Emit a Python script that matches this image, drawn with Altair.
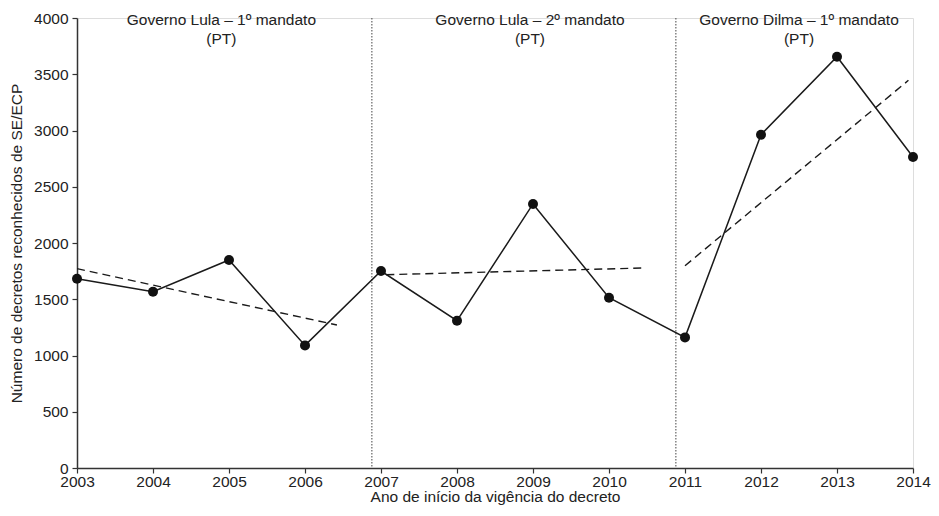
import altair as alt
import pandas as pd

years = [2003, 2004, 2005, 2006, 2007, 2008, 2009, 2010, 2011, 2012, 2013, 2014]
decrees = [1683, 1567, 1849, 1090, 1751, 1309, 2347, 1514, 1161, 2963, 3656, 2764]

trend_group = ["a", "a", "b", "b", "c", "c"]
trend_x = [2003.0, 2006.42, 2007.07, 2010.46, 2011.0, 2013.94]
trend_y = [1772, 1271, 1718, 1778, 1798, 3446]

divider_x = [2006.88, 2010.88]

term_labels = [
    ["Governo Lula – 1º mandato", "(PT)"],
    ["Governo Lula – 2º mandato", "(PT)"],
    ["Governo Dilma – 1º mandato", "(PT)"],
]
term_label_x = [2004.9, 2008.96, 2012.5]
term_label_y = [3980, 3980, 3980]

df = pd.DataFrame({"ano": years, "n": decrees})
tdf = pd.DataFrame({"g": trend_group, "ano": trend_x, "n": trend_y})
ddf = pd.DataFrame({"ano": divider_x})
ldf = pd.DataFrame({"ano": term_label_x, "n": term_label_y, "txt": term_labels})

FONT = "Liberation Sans"
AX = "#333333"
FS = 15.5

x_scale = alt.Scale(domain=[2003, 2014], nice=False, zero=False)
y_scale = alt.Scale(domain=[0, 4000], nice=False)

x_axis = alt.Axis(
    title="Ano de início da vigência do decreto",
    values=years, format="d", grid=False,
    labelFontSize=FS, titleFontSize=FS, titleFontWeight="normal",
    labelColor="#222", titleColor="#222", domainColor=AX, tickColor=AX,
    domainWidth=1.5, tickWidth=1.2, tickSize=5, labelPadding=1, titlePadding=0,
    labelFlush=False,
)
y_axis = alt.Axis(
    title="Número de decretos reconhecidos de SE/ECP",
    values=list(range(0, 4001, 500)), format="d", grid=False,
    labelFontSize=FS, titleFontSize=FS, titleFontWeight="normal",
    labelColor="#222", titleColor="#222", domainColor=AX, tickColor=AX,
    domainWidth=1.5, tickWidth=1.2, tickSize=5, labelPadding=4, titlePadding=9,
)

dividers = alt.Chart(ddf).mark_rule(color="#444", strokeWidth=1, strokeDash=[1.5, 1.5]).encode(
    x=alt.X("ano:Q", scale=x_scale, axis=x_axis),
    y=alt.value(0),
    y2=alt.value(450),
)

line = alt.Chart(df).mark_line(color="#1a1a1a", strokeWidth=1.5).encode(
    x=alt.X("ano:Q", scale=x_scale, axis=x_axis),
    y=alt.Y("n:Q", scale=y_scale, axis=y_axis),
)

pts = alt.Chart(df).mark_circle(color="#111", opacity=1, size=100).encode(
    x=alt.X("ano:Q", scale=x_scale),
    y=alt.Y("n:Q", scale=y_scale),
)

trend = alt.Chart(tdf).mark_line(color="#1a1a1a", strokeWidth=1.4, strokeDash=[8, 5]).encode(
    x=alt.X("ano:Q", scale=x_scale),
    y=alt.Y("n:Q", scale=y_scale),
    detail="g:N",
)

labels = alt.Chart(ldf).mark_text(
    font=FONT, fontSize=FS, color="#222", align="center", baseline="middle", lineHeight=19
).encode(
    x=alt.X("ano:Q", scale=x_scale),
    y=alt.Y("n:Q", scale=y_scale),
    text="txt",
)

chart = alt.layer(dividers, line, trend, pts, labels).properties(
    width=836, height=450,
    autosize=alt.AutoSizeParams(type="none"),
    padding={"left": 69, "top": 10, "right": 18, "bottom": 40},
).configure_view(stroke=None).configure(font=FONT)

chart.save("out.html", embed_options={"renderer": "svg", "actions": False})
